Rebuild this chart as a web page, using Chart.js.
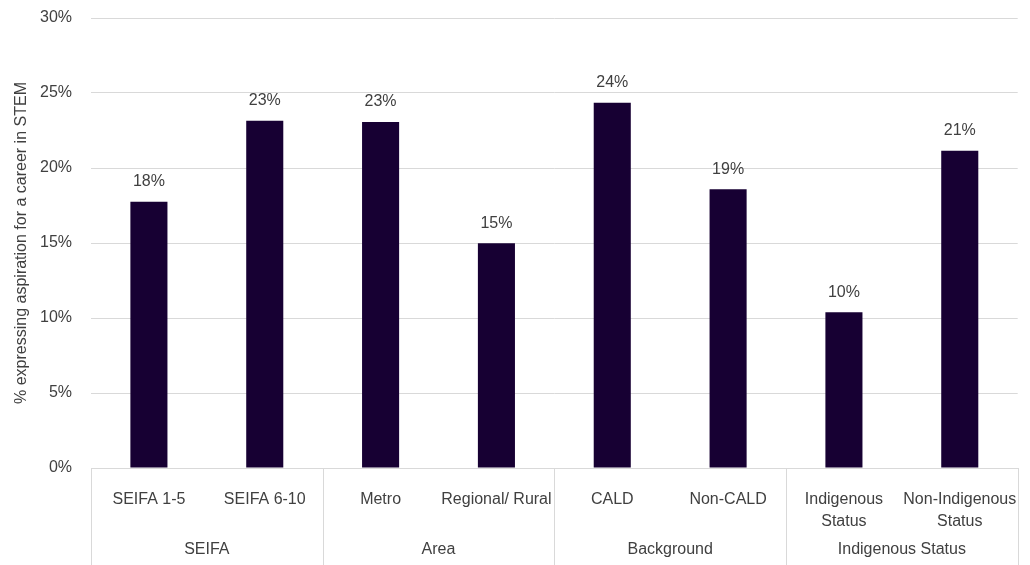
<!DOCTYPE html>
<html>
<head>
<meta charset="utf-8">
<script src="https://cdn.jsdelivr.net/npm/chart.js@4"></script>
<style>
  html, body { margin: 0; padding: 0; background: #fff; }
  #wrap { width: 1030px; height: 565px; }
</style>
</head>
<body>
<div id="wrap"><canvas id="myChart" width="1030" height="565"></canvas></div>
<script>
const categories = [
  "SEIFA 1-5", "SEIFA 6-10", "Metro", "Regional/ Rural",
  "CALD", "Non-CALD", ["Indigenous", "Status"], ["Non-Indigenous", "Status"]
];
const values = [17.75, 23.15, 23.07, 14.98, 24.35, 18.58, 10.38, 21.15];
const groups = ["SEIFA", "Area", "Background", "Indigenous Status"];
const groupSizes = [2, 2, 2, 2];
const yTicks = [0, 5, 10, 15, 20, 25, 30];

const textColor = "#404040";
const lineColor = "#d9d9d9";
const fontFamily = "'Liberation Sans', Arial, sans-serif";

// value labels above each bar
const barLabels = {
  id: "barLabels",
  afterDatasetsDraw(chart) {
    const ctx = chart.ctx;
    const meta = chart.getDatasetMeta(0);
    ctx.save();
    ctx.fillStyle = textColor;
    ctx.font = "16px " + fontFamily;
    ctx.textAlign = "center";
    ctx.textBaseline = "middle";
    meta.data.forEach((bar, i) => {
      ctx.fillText(Math.round(values[i]) + "%", bar.x, bar.y - 20);
    });
    ctx.restore();
  }
};

// group separators and group names under the category labels
const groupAxis = {
  id: "groupAxis",
  afterDraw(chart) {
    const ctx = chart.ctx;
    const x = chart.scales.x;
    const area = chart.chartArea;
    const bottom = chart.height;
    ctx.save();
    ctx.strokeStyle = lineColor;
    ctx.lineWidth = 1;
    ctx.fillStyle = textColor;
    ctx.font = "16px " + fontFamily;
    ctx.textAlign = "center";
    ctx.textBaseline = "middle";
    let start = 0;
    const edges = [area.left];
    groupSizes.forEach((n, g) => {
      const end = start + n - 1;
      const right = end < categories.length - 1
        ? (x.getPixelForValue(end) + x.getPixelForValue(end + 1)) / 2
        : area.right;
      const left = edges[edges.length - 1];
      edges.push(right);
      ctx.fillText(groups[g], (left + right) / 2, 550);
      start += n;
    });
    edges.forEach(e => {
      const px = Math.round(e) + 0.5;
      ctx.beginPath();
      ctx.moveTo(px, area.bottom);
      ctx.lineTo(px, bottom);
      ctx.stroke();
    });
    ctx.restore();
  }
};

const ctx = document.getElementById("myChart").getContext("2d");

new Chart(ctx, {
  type: "bar",
  data: {
    labels: categories,
    datasets: [
      {
        data: values,
        backgroundColor: "#170033",
        categoryPercentage: 1,
        barPercentage: 0.32
      }
    ]
  },
  options: {
    responsive: false,
    animation: false,
    layout: { padding: { top: 18, right: 12, left: 0, bottom: 0 } },
    plugins: {
      legend: { display: false },
      tooltip: { enabled: false }
    },
    scales: {
      x: {
        grid: { display: false },
        border: { display: true, color: lineColor, width: 1 },
        ticks: {
          color: textColor,
          font: { family: fontFamily, size: 16, lineHeight: 1.35 },
          padding: 13,
          maxRotation: 0,
          autoSkip: false
        },
        afterFit(scale) { scale.height = 97; }
      },
      y: {
        min: 0,
        max: 30,
        afterBuildTicks(scale) {
          scale.ticks = yTicks.map(v => ({ value: v }));
        },
        grid: { color: lineColor, drawTicks: false },
        border: { display: false },
        ticks: {
          color: textColor,
          font: { family: fontFamily, size: 16 },
          padding: 19,
          callback: v => v + "%"
        },
        title: {
          display: true,
          text: "% expressing aspiration for a career in STEM",
          color: textColor,
          font: { family: fontFamily, size: 16 },
          padding: { top: 12, bottom: 0 }
        },
        afterFit(scale) {
          scale.width = 91;
          scale.paddingTop = 0;
          scale.paddingBottom = 0;
        }
      }
    }
  },
  plugins: [barLabels, groupAxis]
});
</script>
</body>
</html>
